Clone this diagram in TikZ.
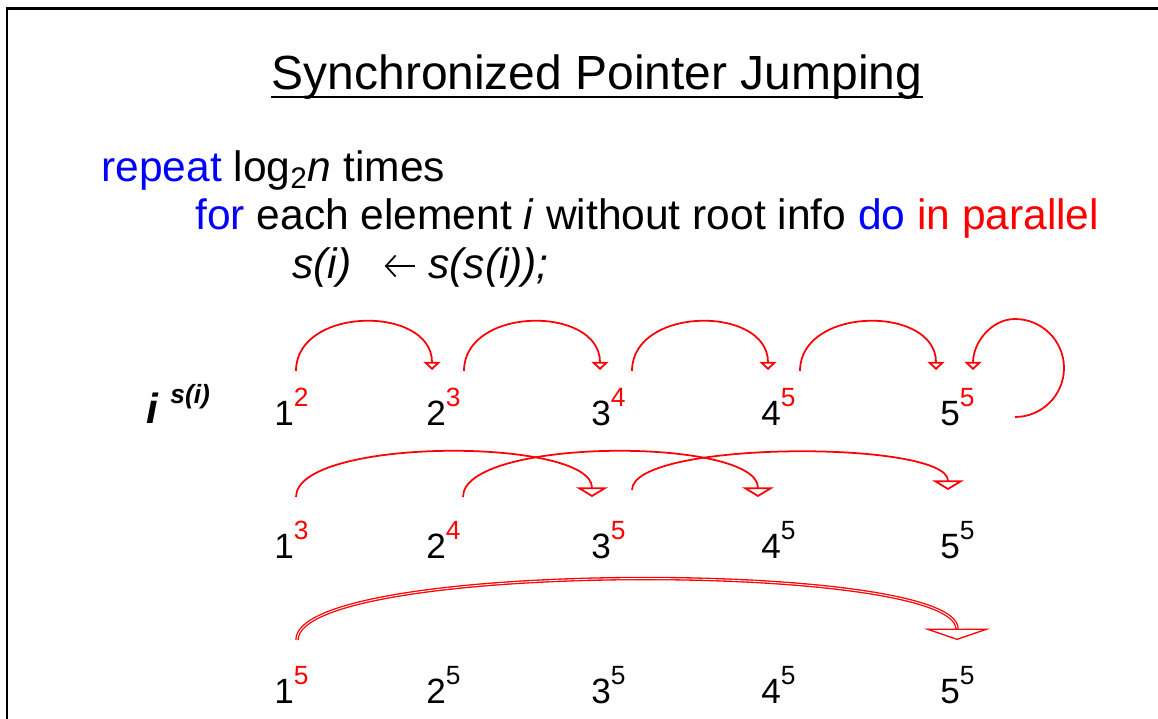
\documentclass[tikz,border=0pt]{standalone}
\usepackage{fontspec}
\setmainfont{Liberation Sans}
\usetikzlibrary{arrows.meta,positioning,calc}
\definecolor{kwblue}{RGB}{0,0,255}
\definecolor{ptred}{RGB}{255,0,0}
\newcommand{\ptr}[2][black]{\raisebox{10.8pt}{\fontsize{15}{17}\selectfont\color{#1}#2}}

\begin{document}
\begin{tikzpicture}[
x = 0.02cm, y = -0.02cm,
 elem/.style = {anchor=base west, inner sep=0pt,
                font=\fontsize{20}{24}\selectfont},
  txt/.style = {anchor=base west, inner sep=0pt,
                font=\fontsize{24.2}{29}\selectfont},
 jump/.style = {draw=ptred, line width=1pt,
                -{Triangle[open, width=9.6pt, length=4.6pt]}},
jumpw/.style = {jump, -{Triangle[open, width=18pt, length=5.5pt]}},
jumpl/.style = {draw=ptred, line width=0.75pt, double=white,
                double distance=0.5pt,
                -{Triangle[open, width=38pt, length=6.5pt]}}
                ]
\useasboundingbox (0,0) rectangle (1158,719);
\draw [line width=1.3pt] (7,719) -- (7,8.5) -- (1158,8.5);

%% heading and pseudo code
\node (title) [anchor=base, inner sep=0pt,
               font=\fontsize{27.3}{32}\selectfont] at (597,90)
      {Synchronized Pointer Jumping};
\draw [line width=1.1pt] ([shift={(0,7)}]title.base west)
                      -- ([shift={(0,7)}]title.base east);
\node (rep)  [txt] at (101,182) {\textcolor{kwblue}{repeat} log\textsubscript{2}\textit{n} times};
\node (loop) [txt] at (195,230) {\textcolor{kwblue}{for} each element \textit{i} without root info
                                  \textcolor{kwblue}{do} \textcolor{ptred}{in parallel}};
\node (lhs)  [txt] at (292,278) {\textit{s(i)}};
\node (rhs)  [txt] at (428,278) {\textit{s(s(i));}};
\draw [line width=1pt, -{Straight Barb[length=5.5pt, width=12pt]}]
      ([shift={(-13,-12)}]rhs.base west) -- ([shift={(33,-12)}]lhs.base east);

\node (key) [anchor=base west, inner sep=0pt,
             font=\fontsize{24}{28}\selectfont\bfseries\itshape] at (146,423)
      {i\hspace{7pt}\raisebox{11pt}{\fontsize{15}{17}\selectfont s(i)}};

%% round 1
\node (n11) [elem] at (274,425) {1\ptr[ptred]{2}};
\node (n12) [elem] at (426,425) {2\ptr[ptred]{3}};
\node (n13) [elem] at (591,425) {3\ptr[ptred]{4}};
\node (n14) [elem] at (761,425) {4\ptr[ptred]{5}};
\node (n15) [elem] at (940,425) {5\ptr[ptred]{5}};
\draw [jump] ([shift={(22,-54)}]n11.base west) .. controls +(0,-65) and +(0,-65) .. ([shift={(6,-55)}]n12.base west);
\draw [jump] ([shift={(38,-54)}]n12.base west) .. controls +(0,-65) and +(0,-65) .. ([shift={(9,-55)}]n13.base west);
\draw [jump] ([shift={(41,-54)}]n13.base west) .. controls +(0,-65) and +(0,-65) .. ([shift={(7,-55)}]n14.base west);
\draw [jump] ([shift={(39,-54)}]n14.base west) .. controls +(0,-65) and +(0,-65) .. ([shift={(-4,-55)}]n15.base west);
\draw [jump] ([shift={(75,-8)}]n15.base west)
      .. controls +(27,0) and +(0,27) .. ++(49,-49)
      .. controls +(0,-27) and +(27,0) .. ++(-49,-49)
      .. controls +(-24,0) and +(0,-27) .. ([shift={(33,-55)}]n15.base west);

%% round 2
\node (n21) [elem] at (274,558) {1\ptr[ptred]{3}};
\node (n22) [elem] at (426,558) {2\ptr[ptred]{4}};
\node (n23) [elem] at (591,558) {3\ptr[ptred]{5}};
\node (n24) [elem] at (761,558) {4\ptr{5}};
\node (n25) [elem] at (940,558) {5\ptr{5}};
\draw [jumpw] ([shift={(22,-61)}]n21.base west) .. controls +(0,-60) and +(0,-60) .. ([shift={(1,-61)}]n23.base west);
\draw [jumpw] ([shift={(37,-61)}]n22.base west) .. controls +(0,-60) and +(0,-60) .. ([shift={(-3,-61)}]n24.base west);
\draw [jumpw] ([shift={(41,-68)}]n23.base west) .. controls +(0,-50) and +(0,-50) .. ([shift={(8,-68)}]n25.base west);

%% round 3
\node (n31) [elem] at (274,703) {1\ptr[ptred]{5}};
\node (n32) [elem] at (426,703) {2\ptr{5}};
\node (n33) [elem] at (591,703) {3\ptr{5}};
\node (n34) [elem] at (761,703) {4\ptr{5}};
\node (n35) [elem] at (940,703) {5\ptr{5}};
\draw [jumpl] ([shift={(23,-63)}]n31.base west) .. controls +(0,-80) and +(0,-80) .. ([shift={(17,-63)}]n35.base west);
%%
\end{tikzpicture}
\end{document}
